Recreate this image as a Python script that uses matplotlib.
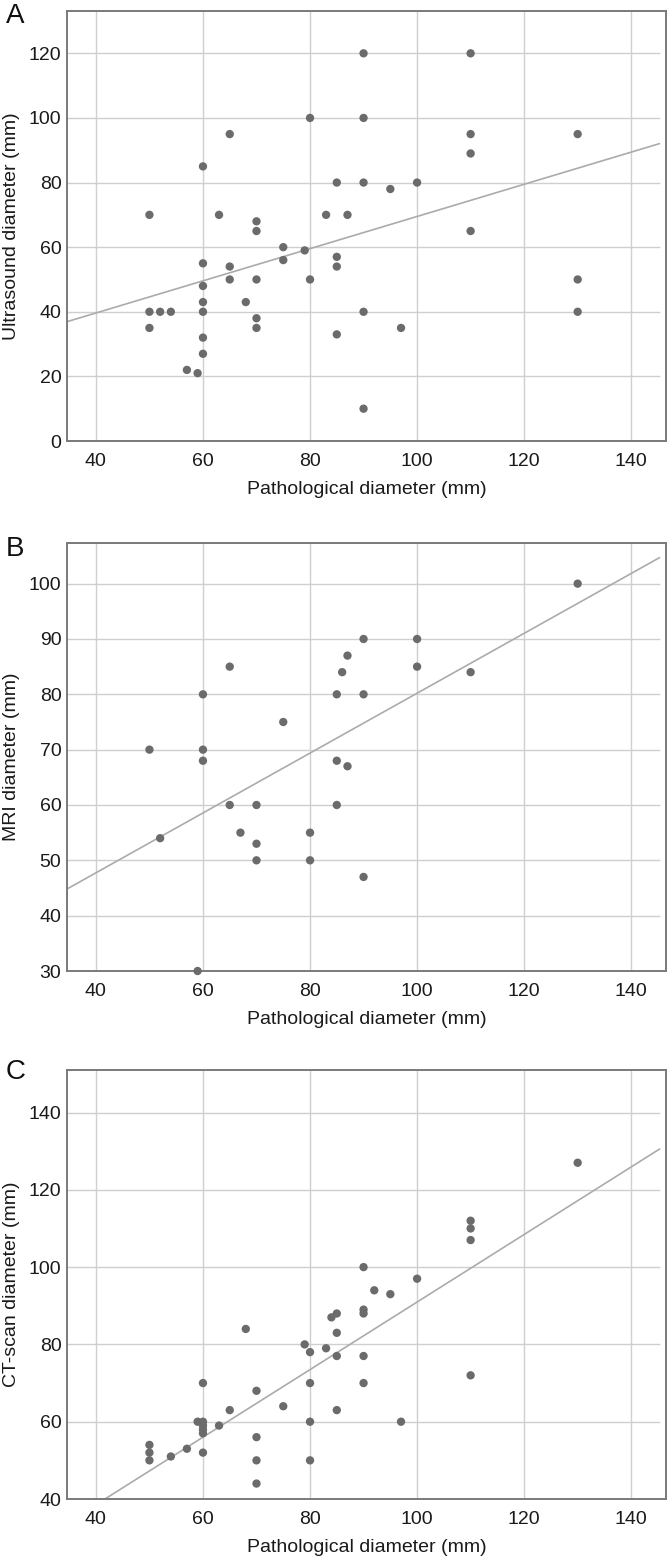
import matplotlib
matplotlib.use("Agg")
import matplotlib.pyplot as plt
import numpy as np

plt.rcParams['font.family'] = ['Liberation Sans', 'DejaVu Sans']

# ---------------- data ----------------
us_x = [50, 50, 50, 52, 54, 60, 60, 60, 60, 60, 60, 60, 57, 59, 65, 63, 65, 65,
        70, 70, 70, 70, 70, 68, 75, 75, 79, 80, 80, 85, 83, 87, 85, 85, 85,
        90, 90, 90, 90, 90, 95, 100, 97, 110, 110, 110, 110, 130, 130, 130]
us_y = [70, 40, 35, 40, 40, 85, 55, 48, 43, 40, 32, 27, 22, 21, 95, 70, 54, 50,
        68, 65, 50, 38, 35, 43, 60, 56, 59, 100, 50, 80, 70, 70, 57, 54, 33,
        120, 100, 80, 40, 10, 78, 80, 35, 120, 95, 89, 65, 95, 50, 40]

mri_x = [50, 52, 60, 60, 60, 59, 65, 65, 70, 67, 70, 70, 75, 80, 80, 85, 86, 87,
         85, 87, 85, 90, 90, 100, 90, 100, 110, 130]
mri_y = [70, 54, 80, 70, 68, 30, 85, 60, 60, 55, 53, 50, 75, 55, 50, 80, 84, 87,
         68, 67, 60, 47, 90, 90, 80, 85, 84, 100]

ct_x = [50, 50, 50, 54, 57, 59, 60, 60, 60, 60, 60, 60, 63, 65, 68, 70, 70, 70, 70,
        75, 79, 80, 80, 80, 80, 83, 84, 85, 85, 85, 85,
        90, 90, 90, 90, 90, 92, 95, 100, 97, 110, 110, 110, 110, 130]
ct_y = [54, 52, 50, 51, 53, 60, 60, 59, 58, 57, 70, 52, 59, 63, 84, 68, 56, 50, 44,
        64, 80, 78, 70, 60, 50, 79, 87, 88, 83, 77, 63,
        100, 89, 88, 77, 70, 94, 93, 97, 60, 112, 110, 107, 72, 127]

# regression lines (intercept, slope)
fit_us = (19.7, 0.498)
fit_mri = (26.1, 0.541)
fit_ct = (3.56, 0.874)

x_ticks = [40, 60, 80, 100, 120, 140]
us_yticks = [0, 20, 40, 60, 80, 100, 120]
mri_yticks = [30, 40, 50, 60, 70, 80, 90, 100]
ct_yticks = [40, 60, 80, 100, 120, 140]

xlabel = "Pathological diameter (mm)"
ylabels = ["Ultrasound diameter (mm)", "MRI diameter (mm)", "CT-scan diameter (mm)"]
panel_letters = ["A", "B", "C"]

# ---------------- figure ----------------
W, H = 669, 1557
fig = plt.figure(figsize=(W / 100, H / 100), dpi=100)

def frac_axes(top_px, bottom_px, left_px=67, right_px=666):
    return [left_px / W, 1 - bottom_px / H, (right_px - left_px) / W, (bottom_px - top_px) / H]

X_MIN, X_MAX = 34.6, 146.5
X_PLOT_END = 145.4

panels = [
    dict(rect=frac_axes(11, 441), x=us_x, y=us_y, fit=fit_us, yt=us_yticks, ylim=(0, 133.1),
         letter_y=23),
    dict(rect=frac_axes(542.7, 971), x=mri_x, y=mri_y, fit=fit_mri, yt=mri_yticks, ylim=(30, 107.4),
         letter_y=556),
    dict(rect=frac_axes(1070, 1499), x=ct_x, y=ct_y, fit=fit_ct, yt=ct_yticks, ylim=(40, 151),
         letter_y=1079),
]

grid_col = "#cfcfcf"
spine_col = "#7a7a7a"
dot_col = "#6b6b6b"
line_col = "#ababab"
FS = 14

for i, p in enumerate(panels):
    ax = fig.add_axes(p["rect"])
    ax.set_xlim(X_MIN, X_MAX)
    ax.set_ylim(*p["ylim"])
    # grid lines
    for xv in x_ticks:
        ax.axvline(xv, color=grid_col, lw=1.0, zorder=1)
    ax.hlines(p["yt"], X_MIN, X_PLOT_END, color=grid_col, lw=1.0, zorder=1)
    # regression line
    xx = np.array([X_MIN, X_PLOT_END])
    b0, b1 = p["fit"]
    ax.plot(xx, b0 + b1 * xx, color=line_col, lw=1.2, zorder=2, solid_capstyle='butt')
    # points
    ax.scatter(p["x"], p["y"], s=36, color=dot_col, edgecolors='none', zorder=3, clip_on=False)
    ax.set_xticks(x_ticks)
    ax.set_yticks(p["yt"])
    ax.tick_params(length=0, labelsize=FS, colors="#1a1a1a")
    ax.tick_params(axis='y', pad=4)
    ax.tick_params(axis='x', pad=8.3)
    for s in ax.spines.values():
        s.set_color(spine_col)
        s.set_linewidth(1.4)
    ax.set_xlabel(xlabel, fontsize=FS, color="#1a1a1a", labelpad=8.6)
    ax.set_ylabel(ylabels[i], fontsize=FS, color="#1a1a1a")
    ax.yaxis.set_label_coords(-0.078, 0.5)
    fig.text(6 / W, 1 - p["letter_y"] / H, panel_letters[i], fontsize=20, color="#111111",
             ha='left', va='baseline')

fig.savefig("out.png", dpi=100)
